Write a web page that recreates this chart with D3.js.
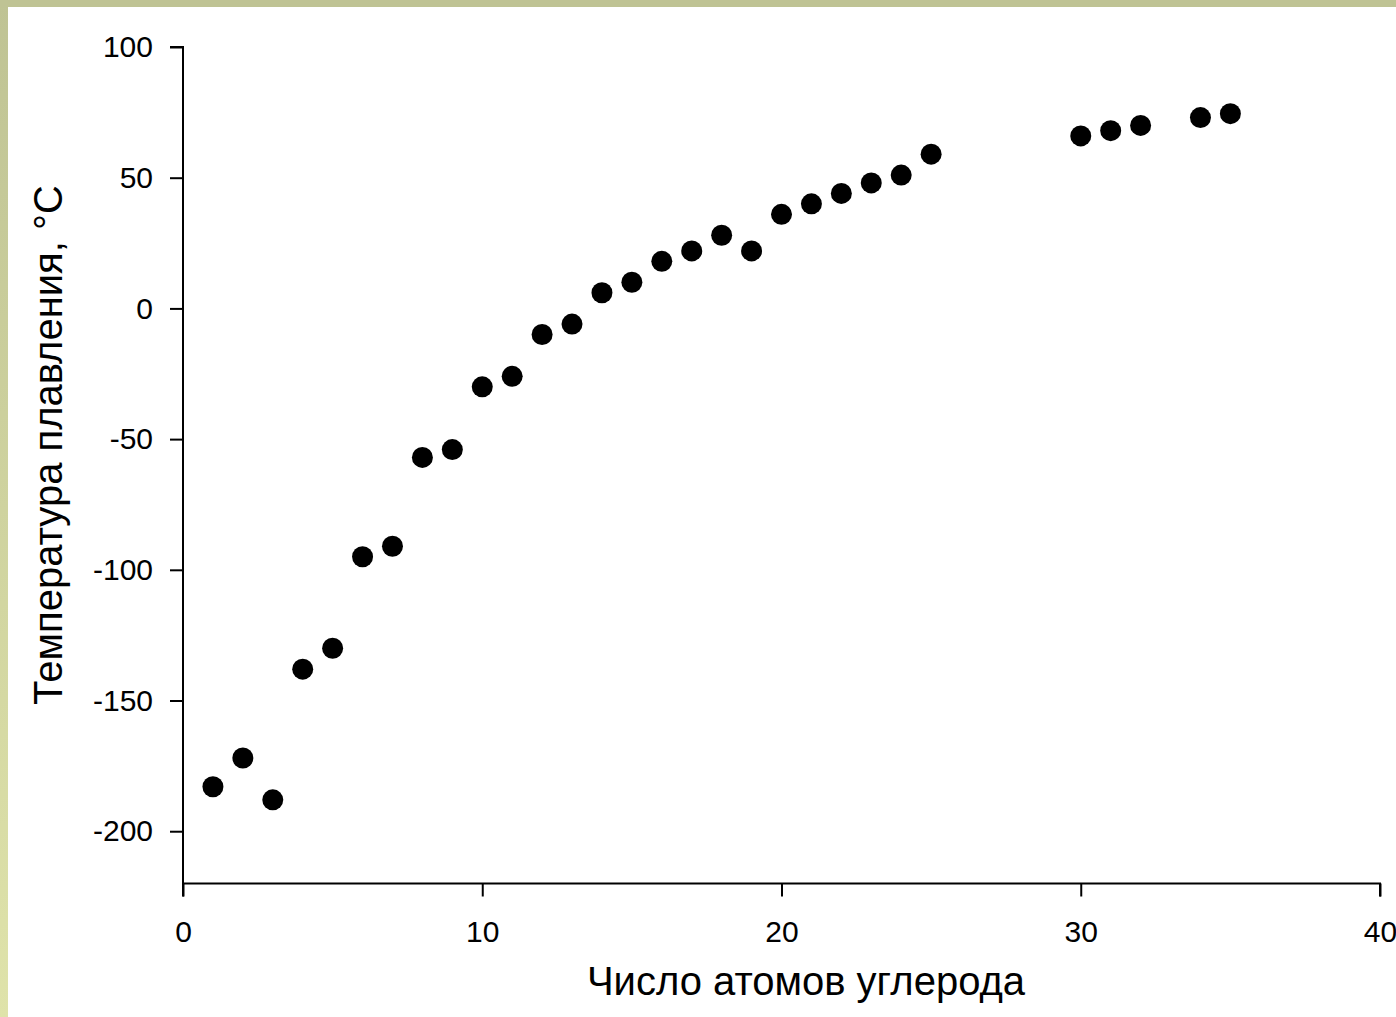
<!DOCTYPE html>
<html><head><meta charset="utf-8">
<script src="https://cdn.jsdelivr.net/npm/d3@7"></script>
<style>
html,body{margin:0;padding:0;background:#fff;}
svg{display:block;}
text{font-family:"Liberation Sans",Arial,sans-serif;fill:#000;}
</style></head>
<body>
<script>
const carbonAtoms = [1,2,3,4,5,6,7,8,9,10,11,12,13,14,15,16,17,18,19,20,21,22,23,24,25,30,31,32,34,35];
const meltingPoints = [-183,-172,-188,-138,-130,-95,-91,-57,-54,-30,-26,-10,-6,6,10,18,22,28,22,36,40,44,48,51,59,66,68,70,73,74.5];
const xTicks = [0,10,20,30,40];
const yTicks = [100,50,0,-50,-100,-150,-200];
const xTitle = "Число атомов углерода";
const yTitle = "Температура плавления, °С";

const W = 1396, H = 1017;
const svg = d3.select("body").append("svg").attr("width", W).attr("height", H);

const defs = svg.append("defs");
const grad = defs.append("linearGradient").attr("id","lg").attr("x1",0).attr("y1",0).attr("x2",0).attr("y2",1);
grad.append("stop").attr("offset","0%").attr("stop-color","#bfc394");
grad.append("stop").attr("offset","100%").attr("stop-color","#dfe3aa");

svg.append("rect").attr("x",0).attr("y",0).attr("width",W).attr("height",H).attr("fill","#fff");
svg.append("rect").attr("x",0).attr("y",0).attr("width",8).attr("height",H).attr("fill","url(#lg)");
svg.append("rect").attr("x",0).attr("y",0).attr("width",W).attr("height",7).attr("fill","#bfc394");

const x = d3.scaleLinear().domain([0,40]).range([183,1380]);
const y = d3.scaleLinear().domain([-220,100]).range([883.5,47]);

const xAxis = svg.append("g").attr("transform","translate(0,883.5)")
  .call(d3.axisBottom(x).tickValues(xTicks).tickSize(13).tickPadding(24).tickFormat(d3.format("d")));
const yAxis = svg.append("g").attr("transform","translate(183,0)")
  .call(d3.axisLeft(y).tickValues(yTicks).tickSize(13).tickPadding(17).tickFormat(d=>d<0?"-"+Math.abs(d):String(d)));
[xAxis,yAxis].forEach(g=>{
  g.select(".domain").attr("stroke","#000").attr("stroke-width",2);
  g.selectAll(".tick line").attr("stroke","#000").attr("stroke-width",2);
  g.selectAll("text").style("font-size","30px").style("font-family","'Liberation Sans',Arial,sans-serif").attr("fill","#000");
});
xAxis.select(".domain").attr("d",`M${x(0)},13V0H${x(40)}V13`);
yAxis.select(".domain").attr("d",`M-13,${y(100)}H0V${y(-220)}`);

svg.append("g").selectAll("circle").data(carbonAtoms).join("circle")
  .attr("cx",(d)=>x(d)).attr("cy",(d,i)=>y(meltingPoints[i])).attr("r",10.5).attr("fill","#000");

svg.append("text").attr("x",806).attr("y",995).attr("text-anchor","middle").style("font-size","40px").text(xTitle);
svg.append("text").attr("transform","translate(62,445) rotate(-90)").attr("text-anchor","middle").style("font-size","40px").text(yTitle);
</script>
</body></html>
